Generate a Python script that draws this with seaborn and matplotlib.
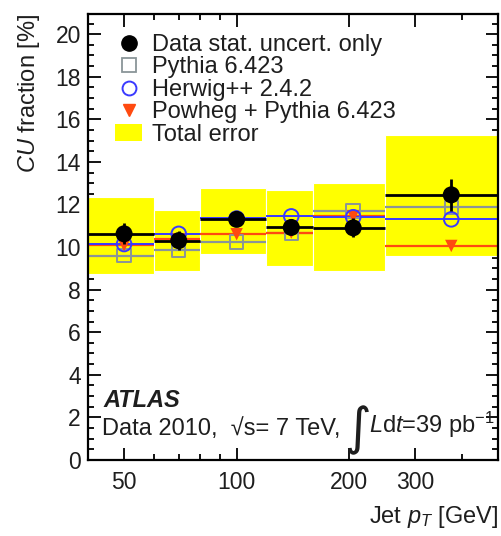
import numpy as np
import pandas as pd
import matplotlib
matplotlib.use("Agg")
import matplotlib.pyplot as plt
import seaborn as sns
from matplotlib.patches import Patch
from matplotlib.lines import Line2D
from matplotlib.ticker import FixedLocator, NullFormatter, MultipleLocator

# ---- data ----
bin_edges = [40, 60, 80, 120, 160, 250, 500]
bin_centers = [50, 70, 100, 140, 205, 375]
data_vals = [10.62, 10.30, 11.30, 10.92, 10.90, 12.45]
data_stat = [0.5, 0.45, 0.3, 0.3, 0.45, 0.75]
pythia_vals = [9.60, 9.84, 10.24, 10.65, 11.68, 11.86]
herwig_vals = [10.14, 10.62, 11.34, 11.44, 11.40, 11.30]
powheg_vals = [10.08, 10.36, 10.60, 10.68, 11.45, 10.05]
total_lo = [8.73, 8.89, 9.67, 9.09, 8.89, 9.56]
total_hi = [12.33, 11.75, 12.76, 12.69, 12.99, 15.27]
x_tick_vals = [50, 100, 200, 300]
x_tick_labels = ["50", "100", "200", "300"]

sns.set_theme(style="ticks")
plt.rcParams["font.family"] = ["Liberation Sans", "DejaVu Sans"]
plt.rcParams["mathtext.fontset"] = "custom"
plt.rcParams["mathtext.rm"] = "Liberation Sans"
plt.rcParams["mathtext.it"] = "Liberation Sans:italic"
plt.rcParams["mathtext.bf"] = "Liberation Sans:bold"

TXT = "#1e1e1e"
FS = 17

df = pd.DataFrame({"pt": bin_centers, "data": data_vals, "pythia": pythia_vals,
                   "herwig": herwig_vals, "powheg": powheg_vals})
edges = np.array(bin_edges, dtype=float)
centers = np.array(bin_centers, dtype=float)
xlo = centers - edges[:-1]
xhi = edges[1:] - centers

fig = plt.figure(figsize=(5.02, 5.36), dpi=100)
ax = fig.add_axes([0.175, 0.142, 0.817, 0.832])
ax.set_xscale("log")

# total error boxes
ax.bar(edges[:-1], np.array(total_hi) - np.array(total_lo), width=np.diff(edges),
       bottom=total_lo, align="edge", color="#ffff00", edgecolor="white", linewidth=0.8, zorder=1)

# MC predictions as horizontal bin lines + markers
ax.errorbar(centers, pythia_vals, xerr=[xlo, xhi], fmt="none", ecolor="#8a9598", elinewidth=1.6, zorder=2)
ax.errorbar(centers, powheg_vals, xerr=[xlo, xhi], fmt="none", ecolor="#ff4a10", elinewidth=1.6, zorder=2)
ax.errorbar(centers, herwig_vals, xerr=[xlo, xhi], fmt="none", ecolor="#3a3aff", elinewidth=1.4, zorder=2)
sns.scatterplot(data=df, x="pt", y="pythia", marker="s", s=95, facecolor="none",
                edgecolor="#8a9598", linewidth=1.4, ax=ax, zorder=3)
sns.scatterplot(data=df, x="pt", y="powheg", marker="v", s=80, color="#ff4a10",
                edgecolor="none", ax=ax, zorder=3)
sns.scatterplot(data=df, x="pt", y="herwig", marker="o", s=110, facecolor="none",
                edgecolor="#3a3aff", linewidth=1.4, ax=ax, zorder=4)
# data
ax.errorbar(centers, data_vals, xerr=[xlo, xhi], yerr=data_stat, fmt="none",
            ecolor="black", elinewidth=2.0, zorder=5)
sns.scatterplot(data=df, x="pt", y="data", marker="o", s=150, color="black",
                edgecolor="none", ax=ax, zorder=6)

ax.set_xlim(40, 500)
ax.set_ylim(0, 20.95)
ax.xaxis.set_major_locator(FixedLocator(x_tick_vals))
ax.set_xticklabels(x_tick_labels)
ax.xaxis.set_minor_locator(FixedLocator([40, 60, 70, 80, 90, 400, 500]))
ax.xaxis.set_minor_formatter(NullFormatter())
ax.yaxis.set_major_locator(MultipleLocator(2))
ax.yaxis.set_minor_locator(MultipleLocator(0.5))

ax.tick_params(which="both", direction="in", top=True, right=True, width=1.3, colors="black",
               labelcolor=TXT)
ax.tick_params(which="major", length=9, labelsize=16.5, pad=5)
ax.tick_params(axis="x", which="major", pad=8)
ax.tick_params(which="minor", length=4.5)
for sp in ax.spines.values():
    sp.set_linewidth(1.6)
    sp.set_color("black")

ax.set_xlabel("Jet $p_{T}$ [GeV]", fontsize=FS, ha="right", color=TXT)
ax.xaxis.set_label_coords(1.0, -0.1)
ax.set_ylabel("$CU$ fraction [%]", fontsize=FS, ha="right", color=TXT)
ax.yaxis.set_label_coords(-0.112, 1.0)

handles = [
    Line2D([], [], marker="o", color="black", linestyle="none", markersize=11),
    Line2D([], [], marker="s", markerfacecolor="none", markeredgecolor="#8a9598",
           linestyle="none", markersize=10, markeredgewidth=1.3),
    Line2D([], [], marker="o", markerfacecolor="none", markeredgecolor="#3a3aff",
           linestyle="none", markersize=10, markeredgewidth=1.4),
    Line2D([], [], marker="v", color="#ff4a10", linestyle="none", markersize=9),
    Patch(facecolor="#ffff00", edgecolor="none"),
]
labels = ["Data stat. uncert. only", "Pythia 6.423", "Herwig++ 2.4.2",
          "Powheg + Pythia 6.423", "Total error"]
leg = ax.legend(handles, labels, loc="upper left", bbox_to_anchor=(0.055, 0.966),
                frameon=False, fontsize=FS, labelspacing=0.02, handlelength=1.15,
                handletextpad=0.42, borderaxespad=0.0, borderpad=0.2)
for t in leg.get_texts():
    t.set_color(TXT)

ax.text(0.037, 0.118, "ATLAS", transform=ax.transAxes, fontsize=FS,
        fontweight="bold", fontstyle="italic", color=TXT)
t1 = ax.text(0.035, 0.055, "Data 2010,  \u221as= 7 TeV, ", transform=ax.transAxes,
             fontsize=FS, color=TXT)
t2 = ax.annotate("\u222b", xy=(1.0, 0.0), xycoords=t1, xytext=(-2.5, -11),
                 textcoords="offset points", fontsize=37, color=TXT,
                 family=["DejaVu Sans"], va="bottom", ha="left")
t3 = ax.annotate("$L\\mathrm{d}t$=39 pb$^{-1}$", xy=(1.0, 0.0), xycoords=t1,
                 xytext=(15.5, 0), textcoords="offset points", fontsize=FS, color=TXT,
                 va="bottom", ha="left")

fig.savefig("out.png", dpi=100)
